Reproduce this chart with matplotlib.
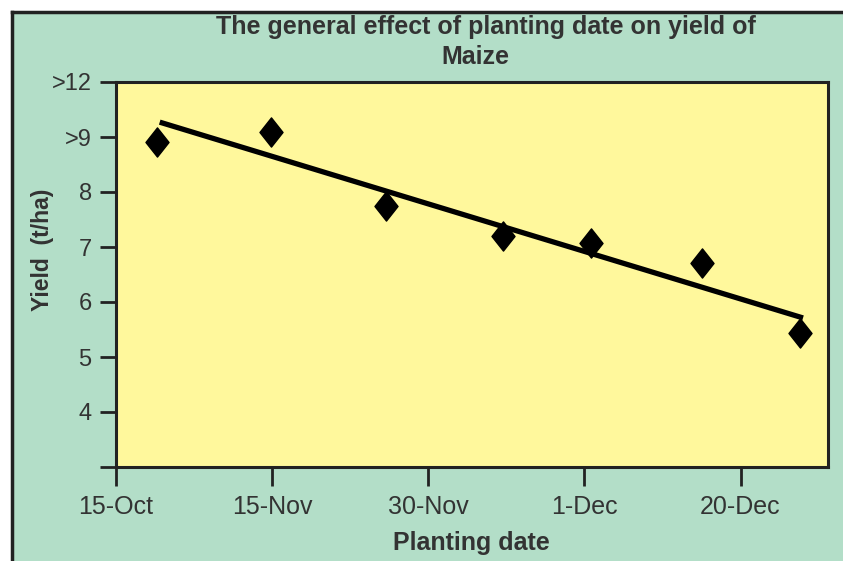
import matplotlib.pyplot as plt
from matplotlib.patches import Rectangle
from matplotlib.path import Path

# planting date ticks (evenly spaced on the chart)
date_labels = ['15-Oct', '15-Nov', '30-Nov', '1-Dec', '20-Dec']
date_pos = [0, 1, 2, 3, 4]

# yield ticks
yield_ticks = [3, 4, 5, 6, 7, 8, 9, 10]
yield_labels = ['', '4', '5', '6', '7', '8', '>9', '>12']

# observed points
obs_x = [0.26, 0.99, 1.73, 2.48, 3.04, 3.75, 4.38]
obs_y = [8.91, 9.09, 7.74, 7.20, 7.07, 6.71, 5.44]

# trend line end points
trend_x = [0.28, 4.40]
trend_y = [9.27, 5.71]

green = '#b3dec8'
yellow = '#fff89c'
txt = '#333333'
plt.rcParams['font.family'] = ['Liberation Sans', 'DejaVu Sans']

fig = plt.figure(figsize=(8.43, 5.61), dpi=100, facecolor='white')
W, H = 843, 561

# green panel with a black border on the left and top
fig.patches.append(Rectangle((12 / W, 0), 1, 1 - 12 / H, transform=fig.transFigure,
                             facecolor=green, edgecolor='none', zorder=-5))
fig.add_artist(plt.Line2D([12 / W, 12 / W], [0, 1 - 12 / H], transform=fig.transFigure,
                          color='#222222', lw=2.5, zorder=-4))
fig.add_artist(plt.Line2D([12 / W, 1], [1 - 12 / H, 1 - 12 / H], transform=fig.transFigure,
                          color='#222222', lw=2.5, zorder=-4))

ax = fig.add_axes([116 / W, 94 / H, (828 - 116) / W, (467 - 82) / H])
ax.set_facecolor(yellow)

diamond = Path([(0, 1), (0.79, 0), (0, -1), (-0.79, 0), (0, 1)],
               [Path.MOVETO, Path.LINETO, Path.LINETO, Path.LINETO, Path.CLOSEPOLY])

ax.plot(trend_x, trend_y, color='black', lw=3.8, solid_capstyle='butt', zorder=3)
ax.plot(obs_x, obs_y, linestyle='none', marker=diamond, markersize=21,
        color='black', zorder=4)

ax.set_xlim(0, 4.56)
ax.set_ylim(3, 10)
ax.set_xticks(date_pos)
ax.set_xticklabels(date_labels, fontsize=18, color=txt)
ax.set_yticks(yield_ticks)
ax.set_yticklabels(yield_labels, fontsize=17, color=txt)
ax.tick_params(axis='x', direction='out', length=14, width=2, pad=6, color='#222222')
ax.tick_params(axis='y', direction='out', length=11.5, width=2, pad=6, color='#222222')
for s in ax.spines.values():
    s.set_linewidth(2.2)
    s.set_color('#222222')

fig.text(486 / W, 1 - 27 / H, 'The general effect of planting date on yield of',
         ha='center', va='center', fontsize=18, fontweight='bold', color=txt)
fig.text(475 / W, 1 - 57 / H, 'Maize',
         ha='center', va='center', fontsize=18, fontweight='bold', color=txt)
fig.text(471 / W, 1 - 543 / H, 'Planting date',
         ha='center', va='center', fontsize=18, fontweight='bold', color=txt)
fig.text(42 / W, 1 - 250 / H, 'Yield  (t/ha)', rotation=90,
         ha='center', va='center', fontsize=16.5, fontweight='bold', color=txt)

fig.savefig('out.png', dpi=100, facecolor=fig.get_facecolor())
